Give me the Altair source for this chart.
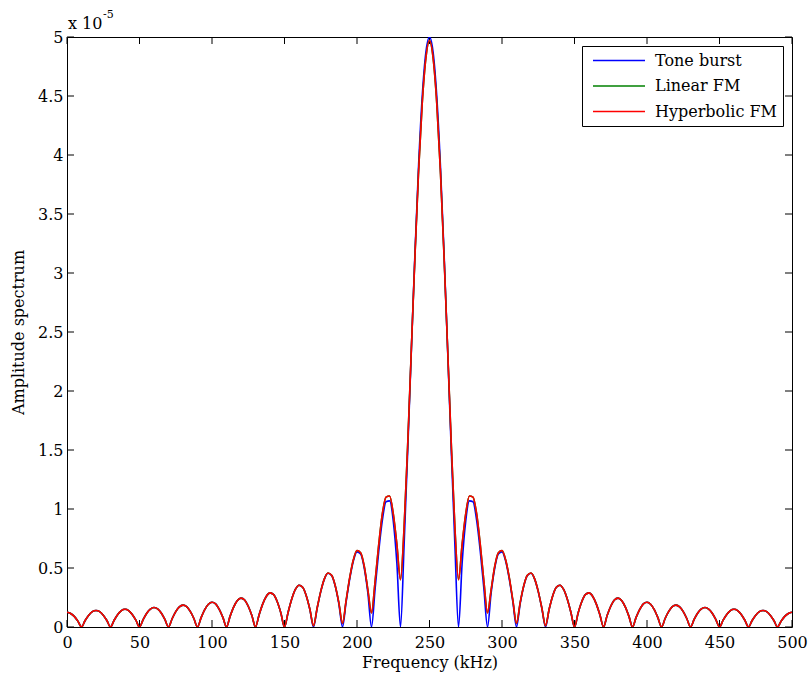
import altair as alt
import pandas as pd

# ---------------- data (amplitude in units of 1e-5) ----------------
freq_khz = [i * 2.5 for i in range(201)]  # 0 ... 500 kHz sample grid

tone_burst = [
    0.125, 0.115, 0.090, 0.050, 0.000,
    0.055, 0.100, 0.130, 0.140, 0.130, 0.100, 0.055, 0.000,
    0.057, 0.106, 0.139, 0.150, 0.139, 0.106, 0.058, 0.000,
    0.063, 0.117, 0.152, 0.165, 0.153, 0.118, 0.064, 0.000,
    0.070, 0.130, 0.170, 0.185, 0.172, 0.132, 0.072, 0.000,
    0.079, 0.147, 0.193, 0.210, 0.196, 0.150, 0.082, 0.000,
    0.092, 0.171, 0.225, 0.245, 0.229, 0.176, 0.097, 0.000,
    0.104, 0.196, 0.261, 0.289, 0.274, 0.214, 0.119, 0.000,
    0.125, 0.237, 0.318, 0.354, 0.336, 0.265, 0.148, 0.000,
    0.157, 0.300, 0.406, 0.455, 0.436, 0.346, 0.195, 0.000,
    0.212, 0.409, 0.560, 0.637, 0.619, 0.500, 0.287, 0.000,
    0.325, 0.643, 0.905, 1.061, 1.069, 0.900, 0.540, 0.000,
    0.700, 1.500, 2.350, 3.180, 3.920, 4.500, 4.870, 5.000,
    4.870, 4.500, 3.920, 3.180, 2.350, 1.500, 0.700, 0.000,
    0.540, 0.900, 1.069, 1.061, 0.905, 0.643, 0.325, 0.000,
    0.287, 0.500, 0.619, 0.637, 0.560, 0.409, 0.212, 0.000,
    0.195, 0.346, 0.436, 0.455, 0.406, 0.300, 0.157, 0.000,
    0.148, 0.265, 0.336, 0.354, 0.318, 0.237, 0.125, 0.000,
    0.119, 0.214, 0.274, 0.289, 0.261, 0.196, 0.104, 0.000,
    0.097, 0.176, 0.229, 0.245, 0.225, 0.171, 0.092, 0.000,
    0.082, 0.150, 0.196, 0.210, 0.193, 0.147, 0.079, 0.000,
    0.072, 0.132, 0.172, 0.185, 0.170, 0.130, 0.070, 0.000,
    0.064, 0.118, 0.153, 0.165, 0.152, 0.117, 0.063, 0.000,
    0.058, 0.106, 0.139, 0.150, 0.139, 0.106, 0.057, 0.000,
    0.055, 0.100, 0.130, 0.140, 0.130, 0.100, 0.055, 0.000,
    0.050, 0.090, 0.115, 0.125,
]

linear_fm = [
    0.125, 0.115, 0.090, 0.050, 0.000,
    0.055, 0.100, 0.130, 0.140, 0.130, 0.100, 0.055, 0.000,
    0.057, 0.106, 0.139, 0.150, 0.139, 0.106, 0.058, 0.000,
    0.063, 0.117, 0.152, 0.165, 0.153, 0.118, 0.064, 0.000,
    0.070, 0.130, 0.170, 0.185, 0.172, 0.132, 0.072, 0.000,
    0.079, 0.147, 0.193, 0.210, 0.196, 0.150, 0.082, 0.000,
    0.092, 0.171, 0.225, 0.245, 0.229, 0.176, 0.097, 0.000,
    0.104, 0.196, 0.261, 0.289, 0.274, 0.214, 0.119, 0.000,
    0.125, 0.237, 0.318, 0.354, 0.336, 0.265, 0.150, 0.010,
    0.160, 0.302, 0.408, 0.457, 0.438, 0.350, 0.205, 0.030,
    0.225, 0.420, 0.570, 0.648, 0.630, 0.515, 0.315, 0.120,
    0.390, 0.700, 0.960, 1.100, 1.110, 0.960, 0.700, 0.400,
    0.850, 1.560, 2.360, 3.150, 3.870, 4.440, 4.820, 4.970,
    4.820, 4.440, 3.870, 3.150, 2.360, 1.560, 0.850, 0.400,
    0.700, 0.960, 1.110, 1.100, 0.960, 0.700, 0.390, 0.120,
    0.315, 0.515, 0.630, 0.648, 0.570, 0.420, 0.225, 0.030,
    0.205, 0.350, 0.438, 0.457, 0.408, 0.302, 0.160, 0.010,
    0.150, 0.265, 0.336, 0.354, 0.318, 0.237, 0.125, 0.000,
    0.119, 0.214, 0.274, 0.289, 0.261, 0.196, 0.104, 0.000,
    0.097, 0.176, 0.229, 0.245, 0.225, 0.171, 0.092, 0.000,
    0.082, 0.150, 0.196, 0.210, 0.193, 0.147, 0.079, 0.000,
    0.072, 0.132, 0.172, 0.185, 0.170, 0.130, 0.070, 0.000,
    0.064, 0.118, 0.153, 0.165, 0.152, 0.117, 0.063, 0.000,
    0.058, 0.106, 0.139, 0.150, 0.139, 0.106, 0.057, 0.000,
    0.055, 0.100, 0.130, 0.140, 0.130, 0.100, 0.055, 0.000,
    0.050, 0.090, 0.115, 0.125,
]

# hyperbolic FM coincides with linear FM in the picture
hyperbolic_fm = list(linear_fm)

series_names = ["Tone burst", "Linear FM", "Hyperbolic FM"]
series_colors = ["#0000ff", "#008000", "#ff0000"]
x_ticks = [0, 50, 100, 150, 200, 250, 300, 350, 400, 450, 500]
y_ticks = [0, 0.5, 1, 1.5, 2, 2.5, 3, 3.5, 4, 4.5, 5]
exponent_base = ["x 10"]
exponent_sup = ["-5"]

rows = []
for name, vals in zip(series_names, [tone_burst, linear_fm, hyperbolic_fm]):
    for f, v in zip(freq_khz, vals):
        rows.append({"freq": f, "amp": v, "series": name})
df = pd.DataFrame(rows)

# ---------------- chart ----------------
W, H = 725, 590
FONT = "DejaVu Serif"
TICK = 7

xs = alt.Scale(domain=[0, 500], nice=False, zero=False)
ys = alt.Scale(domain=[0, 5], nice=False)

x_axis = alt.Axis(values=x_ticks, title="Frequency (kHz)", format="d",
                  labelPadding=7, titlePadding=4,
                  labelFlush=False, labelOverlap=False, labelBound=False)
y_axis = alt.Axis(values=y_ticks, title="Amplitude spectrum", format="~g",
                  labelPadding=4, titlePadding=11,
                  labelFlush=False, labelOverlap=False, labelBound=False)

color = alt.Color(
    "series:N",
    scale=alt.Scale(domain=series_names, range=series_colors),
    legend=alt.Legend(
        title=None, orient="top-right", offset=9, padding=6,
        strokeColor="black", fillColor="white", cornerRadius=0,
        symbolType="stroke", symbolSize=2704, symbolStrokeWidth=1.6,
        symbolOffset=4, clipHeight=17, rowPadding=8.5, labelOffset=9,
        labelFont=FONT, labelFontSize=16, labelColor="black",
    ),
)

lines = [
    alt.Chart(df).transform_filter(alt.datum.series == n)
    .mark_line(strokeWidth=1.6, clip=True, interpolate="monotone")
    .encode(
        x=alt.X("freq:Q", scale=xs, axis=x_axis),
        y=alt.Y("amp:Q", scale=ys, axis=y_axis),
        color=color,
    )
    for n in series_names
]

xt = pd.DataFrame({"freq": x_ticks})
yt = pd.DataFrame({"amp": y_ticks})

bottom_ticks = alt.Chart(xt).mark_rule(color="black", strokeWidth=1).encode(
    x=alt.X("freq:Q", scale=xs, axis=x_axis), y=alt.value(H), y2=alt.value(H - TICK))
top_ticks = alt.Chart(xt).mark_rule(color="black", strokeWidth=1).encode(
    x=alt.X("freq:Q", scale=xs, axis=x_axis), y=alt.value(0), y2=alt.value(TICK))
left_ticks = alt.Chart(yt).mark_rule(color="black", strokeWidth=1).encode(
    y=alt.Y("amp:Q", scale=ys, axis=y_axis), x=alt.value(0), x2=alt.value(TICK))
right_ticks = alt.Chart(yt).mark_rule(color="black", strokeWidth=1).encode(
    y=alt.Y("amp:Q", scale=ys, axis=y_axis), x=alt.value(W), x2=alt.value(W - TICK))

exp_text = alt.Chart(pd.DataFrame({"t": exponent_base})).mark_text(
    align="left", baseline="alphabetic", font=FONT, fontSize=16, color="black"
).encode(x=alt.value(1), y=alt.value(-8), text="t:N")
exp_sup = alt.Chart(pd.DataFrame({"t": exponent_sup})).mark_text(
    align="left", baseline="alphabetic", font=FONT, fontSize=11, color="black"
).encode(x=alt.value(36), y=alt.value(-19), text="t:N")

chart = alt.layer(
    bottom_ticks, top_ticks, left_ticks, right_ticks,
    *lines, exp_text, exp_sup,
).properties(
    width=W, height=H,
    autosize=alt.AutoSizeParams(type="none"),
    padding={"left": 67, "top": 37, "right": 18, "bottom": 55},
    background="white",
).configure_view(
    stroke="black", strokeWidth=1,
).configure_axis(
    grid=False, domain=False, ticks=False,
    labelFont=FONT, labelFontSize=16, labelColor="black",
    titleFont=FONT, titleFontSize=16, titleColor="black", titleFontWeight="normal",
)

chart.save("out.html", embed_options={"renderer": "svg", "actions": False})
